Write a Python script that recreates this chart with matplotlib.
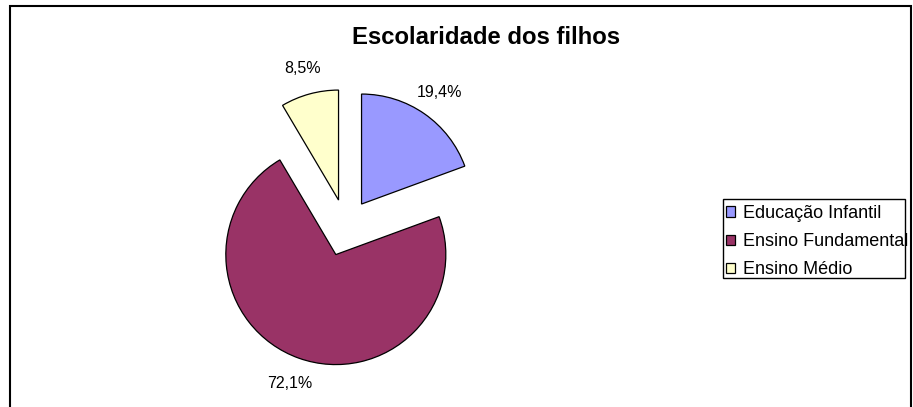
import matplotlib
matplotlib.use("Agg")
import matplotlib.pyplot as plt
from matplotlib.patches import Rectangle

plt.rcParams['font.family'] = ['Liberation Sans', 'DejaVu Sans']

title = "Escolaridade dos filhos"
categories = ["Educação Infantil", "Ensino Fundamental", "Ensino Médio"]
values = [19.4, 72.1, 8.5]
colors = ["#9999FF", "#993366", "#FFFFCC"]
explode_frac = [0.25, 0.27, 0.25]

W, H = 913, 407
R = 110
fig = plt.figure(figsize=(W / 100, H / 100), dpi=100)
ax = fig.add_axes([0, 0, 1, 1])

wedges, texts, autotexts = ax.pie(
    values, colors=colors, explode=[f * R for f in explode_frac],
    startangle=90, counterclock=False,
    center=(345.8, H - 226.6), radius=R, frame=True,
    autopct=lambda p: f"{p:.1f}%".replace('.', ','), pctdistance=1.24,
    wedgeprops=dict(edgecolor='black', linewidth=0.9),
    textprops=dict(fontsize=11.5, color='black'))
ax.set_xlim(0, W)
ax.set_ylim(0, H)
ax.set_aspect('auto')
ax.axis('off')

# outer chart border
fig.patches.append(Rectangle((10 / W, -0.05), (911 - 10) / W, (H - 6) / H + 0.05,
                             transform=fig.transFigure, fill=False,
                             edgecolor='black', linewidth=1.5))

fig.text(486 / W, 1 - 37 / H, title, ha='center', va='center',
         fontsize=17.2, fontweight='bold')

# legend frame (text overflows it, as in the original)
fig.patches.append(Rectangle((723 / W, 1 - 278 / H), (905 - 723) / W, (278 - 199) / H,
                             transform=fig.transFigure, fill=False,
                             edgecolor='black', linewidth=1.0))
leg = fig.legend(wedges, categories, loc='upper left',
                 bbox_to_anchor=(726 / W, 1 - 205 / H),
                 fontsize=13, frameon=False,
                 handlelength=0.5, handleheight=0.5, handletextpad=0.42,
                 borderpad=0.0, labelspacing=0.62, borderaxespad=0)

fig.savefig("out.png", dpi=100)
